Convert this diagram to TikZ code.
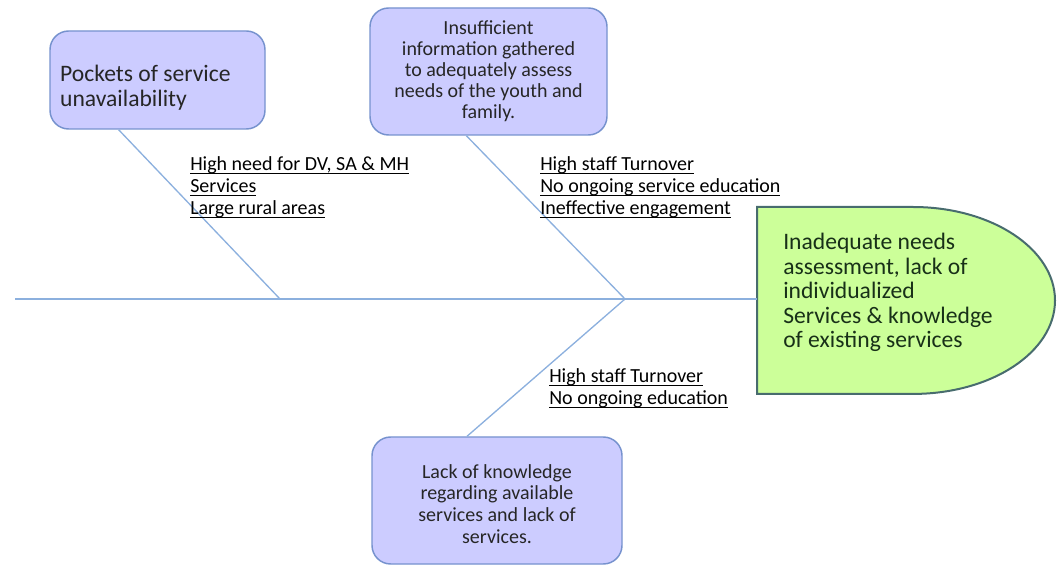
\documentclass[tikz,border=0pt]{standalone}
\usepackage{fontspec}
\setmainfont{Carlito}
\usetikzlibrary{positioning}
\definecolor{boxfill}{RGB}{204,204,255}
\definecolor{boxline}{RGB}{118,146,206}
\definecolor{boneline}{RGB}{140,176,222}
\definecolor{headfill}{RGB}{204,255,153}
\definecolor{headline}{RGB}{72,108,110}
\definecolor{txt}{RGB}{38,38,38}
\definecolor{headtxt}{RGB}{24,48,24}
\newcommand\ulin[1]{\setbox0\hbox{#1}\leavevmode\rlap{\rule[-2.4pt]{\wd0}{0.6pt}}\box0}
\tikzset{
 cause/.style={draw=boxline,fill=boxfill,line width=1.1pt,rounded corners=14pt,text=txt,align=center,inner sep=0pt,font=\fontsize{15}{15.75}\selectfont},
 bone/.style={draw=boneline,line width=1pt},
 note/.style={anchor=north west,align=left,inner sep=0pt,text=black,font=\fontsize{15}{16.5}\selectfont}
}
\begin{document}
\begin{tikzpicture}[x=0.75pt,y=-0.75pt]
 \useasboundingbox (0,0) rectangle (1057,566);
 % cause boxes
 \node[cause,minimum width=161.25pt,minimum height=73.5pt,text width=146pt,align=flush left,font=\fontsize{17.7}{18.75}\selectfont] (pock) at (157.5,80) {\rule{0pt}{24.5pt}Pockets of service\\unavailability};
 \node[cause,minimum width=177.75pt,minimum height=95.25pt] (info) at (488.5,71.5) {Insufficient\\information gathered\\to adequately assess\\needs of the youth and\\family.};
 \node[cause,minimum width=187.5pt,minimum height=95.25pt,font=\fontsize{15}{16.2}\selectfont] (lack) at (497,500.5) {\rule{0pt}{15.5pt}Lack of knowledge\\regarding available\\services and lack of\\services.};
 % head
 \draw[fill=headfill,draw=headline,line width=1.5pt] (757,207) -- (913,207) arc[start angle=90,end angle=-90,x radius=106.5pt,y radius=70.1pt] -- (757,394) -- cycle;
 \node[anchor=north west,text width=190pt,align=flush left,inner sep=0pt,text=headtxt,font=\fontsize{17.7}{18.4}\selectfont] (goal) at (783,233) {Inadequate needs\\assessment, lack of\\individualized\\Services \& knowledge\\of existing services};
 % spine
 \coordinate (tail) at (15,299);
 \coordinate (head) at (757,299);
 \coordinate (j1) at (280,299);
 \coordinate (j2) at (625,299);
 \draw[bone] (tail) -- (head);
 \draw[bone] (pock.232) -- (j1);
 \draw[bone] (info.251) -- (j2);
 \draw[bone] (lack.115) -- (j2);
 % labels
 \node[note] (n1) at (190,156) {\ulin{High need for DV, SA \& MH}\\\ulin{Services}\\\ulin{Large rural areas}};
 \node[note] (n2) at (540,156) {\ulin{High staff Turnover}\\\ulin{No ongoing service education}\\\ulin{Ineffective engagement}};
 \node[note] (n3) at (549,368) {\ulin{High staff Turnover}\\\ulin{No ongoing education}};
\end{tikzpicture}
\end{document}
